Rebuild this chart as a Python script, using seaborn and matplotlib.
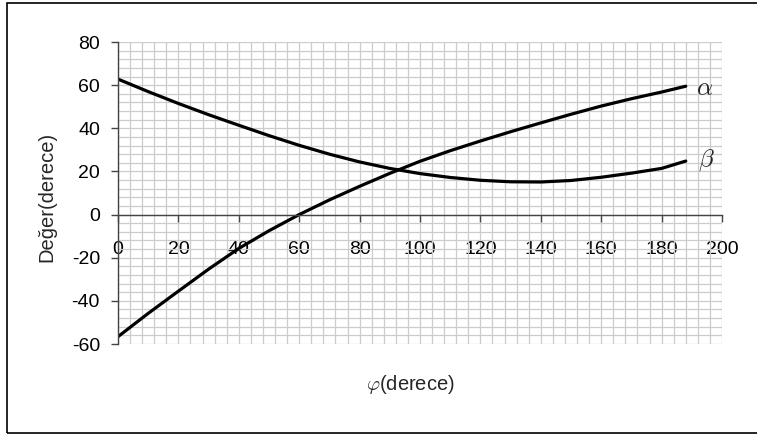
import numpy as np
import pandas as pd
import matplotlib
matplotlib.use('Agg')
import matplotlib.pyplot as plt
import seaborn as sns
from matplotlib.patches import Rectangle

# values
phi = [0, 10, 20, 30, 40, 50, 60, 70, 80, 90, 100, 110, 120, 130, 140, 150, 160, 170, 180, 188]
alpha = [-56.6, -45.8, -35.5, -25.3, -15.7, -7.5, 0.0, 6.8, 13.1, 19.1, 24.7, 29.6, 34.1, 38.4,
         42.5, 46.5, 50.3, 53.7, 56.8, 59.5]
beta = [62.8, 57.0, 51.5, 46.3, 41.4, 36.6, 32.1, 28.0, 24.4, 21.4, 19.0, 17.2, 15.9, 15.2,
        15.1, 15.8, 17.3, 19.2, 21.4, 24.8]
x_ticks = list(range(0, 201, 20))
y_ticks = list(range(-60, 81, 20))

df = pd.DataFrame({'phi': phi, 'alpha': alpha, 'beta': beta})

sns.set_style("white")
plt.rcParams['font.family'] = ['Liberation Sans', 'DejaVu Sans']
plt.rcParams['mathtext.fontset'] = 'cm'
plt.rcParams['axes.unicode_minus'] = False

W, H = 757, 436
fig = plt.figure(figsize=(W / 100, H / 100), dpi=100)
ax = fig.add_axes([118 / W, 1 - 344 / H, (722 - 118) / W, (344 - 42) / H])

# outer chart border
fig.patches.append(Rectangle((7 / W, 3 / H), 1.0, (433 - 3) / H, transform=fig.transFigure,
                             fill=False, edgecolor='black', linewidth=1.2))

sns.lineplot(data=df, x='phi', y='alpha', ax=ax, color='black', linewidth=2.3)
sns.lineplot(data=df, x='phi', y='beta', ax=ax, color='black', linewidth=2.3)

ax.set_xlim(0, 200)
ax.set_ylim(-60, 80)
ax.set_xticks(x_ticks)
ax.set_yticks(y_ticks)
ax.set_xticks(np.arange(0, 201, 4), minor=True)
ax.set_yticks(np.arange(-60, 81, 4), minor=True)
ax.grid(True, which='both', color='#cccccc', linewidth=0.9)
ax.set_axisbelow(True)

for s in ['top', 'right']:
    ax.spines[s].set_visible(False)
ax.spines['bottom'].set_position(('data', 0))
ax.spines['bottom'].set_color('#444444')
ax.spines['left'].set_color('#444444')
ax.spines['bottom'].set_linewidth(1.0)
ax.spines['left'].set_linewidth(1.0)
ax.tick_params(axis='x', which='major', direction='out', length=5, width=1, color='#444444',
               pad=14, labelsize=14, bottom=True, labelcolor='black')
ax.tick_params(axis='y', which='major', direction='out', length=5, width=1, color='#444444',
               pad=8, labelsize=14, left=True, labelcolor='black')
ax.tick_params(which='minor', length=0)

ax.set_xlabel('')
ax.set_ylabel('')
fig.text(410 / W, 1 - 384 / H, r'$\varphi$(derece)', ha='center', va='center', fontsize=14.5)
fig.text(47 / W, 1 - 197 / H, 'Değer(derece)', ha='center', va='center', rotation=90, fontsize=14.5)

# curve names at the line ends
fig.text(705 / W, 1 - 88 / H, r'$\alpha$', ha='center', va='center', fontsize=18)
fig.text(706 / W, 1 - 160 / H, r'$\beta$', ha='center', va='center', fontsize=18)

fig.savefig('out.png', dpi=100)
plt.close(fig)
